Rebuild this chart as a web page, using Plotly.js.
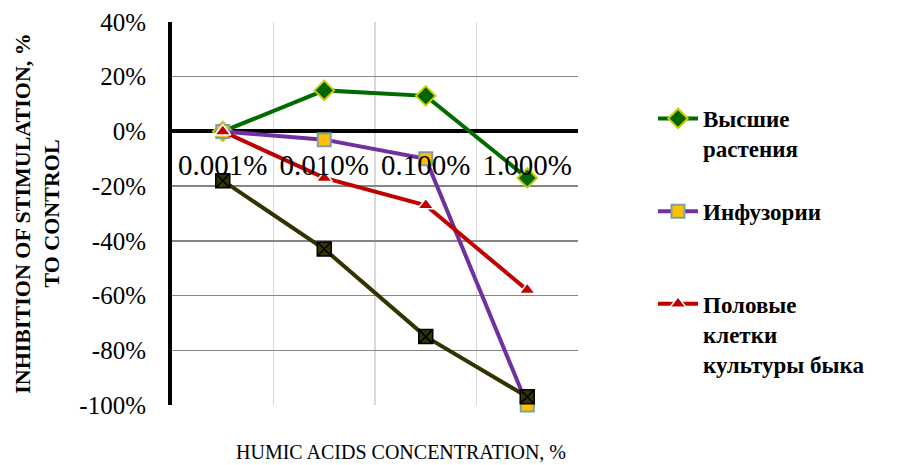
<!DOCTYPE html>
<html>
<head>
<meta charset="utf-8">
<script src="https://cdn.plot.ly/plotly-3.0.1.min.js"></script>
<style>html,body{margin:0;padding:0;background:#fff;}#chart{width:905px;height:465px;}</style>
</head>
<body>
<div id="chart"></div>
<script>
// Categories (humic acid concentration)
var categories = ["0.001%", "0.010%", "0.100%", "1.000%"];

// Series values (fraction of control)
var higherPlants = [0, 0.15, 0.13, -0.17];      // Высшие растения
var infusoria = [0, -0.03, -0.10, -1.00];       // Инфузории
var bullCells = [0, -0.17, -0.27, -0.58];       // Половые клетки культуры быка
var fourthSeries = [-0.18, -0.43, -0.75, -0.97]; // unlabeled series

// Series names
var nameHigherPlants = "<b>Высшие<br>растения<br>\u00a0</b>";
var nameInfusoria = "<b>Инфузории<br>\u00a0<br>\u00a0</b>";
var nameBullCells = "<b>Половые<br>клетки<br>культуры быка</b>";

// Y tick labels
var yTickVals = [0.4, 0.2, 0, -0.2, -0.4, -0.6, -0.8, -1.0];
var yTickText = ["40%", "20%", "0%", "-20%", "-40%", "-60%", "-80%", "-100%"];

var serif = "Liberation Serif";

var traces = [
  {
    x: categories, y: higherPlants, type: "scatter", mode: "lines+markers",
    name: nameHigherPlants, cliponaxis: false,
    line: {color: "#006b00", width: 4},
    marker: {symbol: "diamond", size: 15, color: "#006600", line: {color: "#cccc00", width: 2}}
  },
  {
    x: categories, y: infusoria, type: "scatter", mode: "lines+markers",
    name: nameInfusoria, cliponaxis: false,
    line: {color: "#7030a0", width: 4},
    marker: {symbol: "square", size: 13, color: "#ffc000", line: {color: "#7ba0aa", width: 2}}
  },
  {
    x: categories, y: bullCells, type: "scatter", mode: "lines+markers",
    name: nameBullCells, cliponaxis: false,
    line: {color: "#c00000", width: 4},
    marker: {symbol: "triangle-up", size: 14, color: "#c00000", line: {color: "#ffffff", width: 1.5}}
  },
  {
    x: categories, y: fourthSeries, type: "scatter", mode: "lines+markers",
    name: "", showlegend: false, cliponaxis: false,
    line: {color: "#333300", width: 4},
    marker: {symbol: "square-x", size: 14, color: "#333300", line: {color: "#000000", width: 1.5}}
  }
];

var layout = {
  width: 905, height: 465,
  margin: {l: 172, r: 327, t: 22, b: 60},
  paper_bgcolor: "#ffffff", plot_bgcolor: "#ffffff",
  font: {family: serif, color: "#000000"},
  showlegend: true,
  xaxis: {
    type: "category",
    range: [-0.5, 3.5],
    anchor: "free",
    position: 1 / 1.4,
    tickson: "boundaries",
    showgrid: true, gridcolor: "#d9d9d9", gridwidth: 1.5,
    showline: false, zeroline: false,
    ticks: "",
    ticklabelstandoff: 14,
    tickfont: {family: serif, size: 29, color: "#000000"}
  },
  yaxis: {
    range: [-1.0, 0.4],
    tickvals: yTickVals, ticktext: yTickText,
    showgrid: true, gridcolor: "#868686", gridwidth: 1.5,
    zeroline: true, zerolinecolor: "#000000", zerolinewidth: 4,
    showline: true, linecolor: "#000000", linewidth: 4,
    ticks: "",
    ticklabelstandoff: 17,
    tickfont: {family: serif, size: 25, color: "#000000"},
    title: {
      text: "<b>INHIBITION OF STIMULATION, %<br>TO CONTROL</b>",
      font: {family: serif, size: 22, color: "#000000"},
      standoff: 15
    }
  },
  legend: {
    x: (653 - 172) / 406, xanchor: "left",
    y: (405 - 97) / 383, yanchor: "top",
    valign: "top",
    itemwidth: 40,
    bgcolor: "rgba(0,0,0,0)",
    font: {family: serif, size: 23, color: "#000000"},
    tracegroupgap: 0
  },
  annotations: [
    {
      text: "HUMIC ACIDS CONCENTRATION, %",
      xref: "paper", yref: "paper",
      x: (401 - 172) / 406, y: -(452 - 405) / 383,
      xanchor: "center", yanchor: "middle",
      showarrow: false,
      font: {family: serif, size: 20, color: "#000000"}
    }
  ]
};

Plotly.newPlot("chart", traces, layout, {displayModeBar: false, staticPlot: true});
</script>
</body>
</html>
